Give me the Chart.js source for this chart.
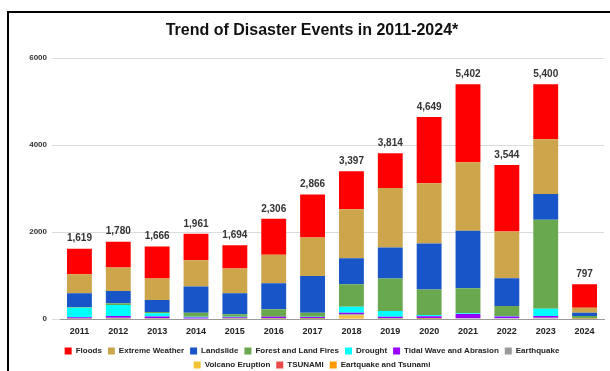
<!DOCTYPE html>
<html>
<head>
<meta charset="utf-8">
<script src="https://cdn.jsdelivr.net/npm/chart.js@4"></script>
<style>
  html, body { margin: 0; padding: 0; background: #fff; overflow: hidden; }
  #wrap { position: relative; width: 610px; height: 371px; }
  #frame {
    position: absolute; left: 7px; top: 11px; width: 700px; height: 400px;
    border-left: 2px solid #000; border-top: 2px solid #000; pointer-events: none;
  }
</style>
</head>
<body>
<div id="wrap">
  <canvas id="chart" width="610" height="371"></canvas>
  <div id="frame"></div>
</div>
<script>
const years = ['2011', '2012', '2013', '2014', '2015', '2016', '2017', '2018', '2019', '2020', '2021', '2022', '2023', '2024'];
const yTicks = [0, 2000, 4000, 6000];

const floods         = [587, 596, 736, 607, 533, 829, 989, 874, 798, 1526, 1794, 1529, 1262, 536];
const extremeWeather = [439, 538, 492, 608, 568, 653, 885, 1123, 1370, 1385, 1577, 1076, 1260, 115];
const landslide      = [323, 284, 277, 600, 485, 600, 846, 600, 715, 1061, 1323, 639, 593, 77];
const forestFires    = [10, 40, 30, 95, 55, 170, 95, 516, 746, 585, 577, 231, 2047, 45];
const drought        = [217, 254, 76, 15, 10, 5, 5, 139, 132, 30, 15, 10, 169, 2];
const tidalWave      = [30, 40, 40, 25, 20, 25, 25, 34, 30, 40, 100, 35, 40, 5];
const earthquake     = [10, 20, 10, 11, 20, 20, 20, 30, 20, 20, 16, 24, 29, 15];
const volcano        = [3, 8, 5, 0, 3, 4, 1, 50, 3, 2, 0, 0, 0, 2];
const tsunami        = [0, 0, 0, 0, 0, 0, 0, 5, 0, 0, 0, 0, 0, 0];
const quakeTsunami   = [0, 0, 0, 0, 0, 0, 0, 26, 0, 0, 0, 0, 0, 0];

// legend order (top of stack first)
const series = [
  { label: 'Floods', data: floods, color: '#ff0000' },
  { label: 'Extreme Weather', data: extremeWeather, color: '#cda64b' },
  { label: 'Landslide', data: landslide, color: '#1755c8' },
  { label: 'Forest and Land Fires', data: forestFires, color: '#6aa84f' },
  { label: 'Drought', data: drought, color: '#00ffff' },
  { label: 'Tidal Wave and Abrasion', data: tidalWave, color: '#9900ff' },
  { label: 'Earthquake', data: earthquake, color: '#999999' },
  { label: 'Volcano Eruption', data: volcano, color: '#f1c232' },
  { label: 'TSUNAMI', data: tsunami, color: '#e84a4a' },
  { label: 'Eartquake and Tsunami', data: quakeTsunami, color: '#ff9900' },
];

// chart.js stacks in dataset order, so bottom series goes first
const datasets = series.slice().reverse().map(s => ({
  label: s.label,
  data: s.data,
  backgroundColor: s.color,
  borderWidth: 0,
  categoryPercentage: 1,
  barPercentage: 0.64,
}));

const totals = years.map((_, i) => series.reduce((sum, s) => sum + s.data[i], 0));

const totalLabels = {
  id: 'totalLabels',
  afterDatasetsDraw(chart) {
    const ctx = chart.ctx;
    const topMeta = chart.getDatasetMeta(chart.data.datasets.length - 1);
    const yScale = chart.scales.y;
    ctx.save();
    ctx.font = 'bold 10px "Liberation Sans", Arial, sans-serif';
    ctx.fillStyle = '#333';
    ctx.textAlign = 'center';
    ctx.textBaseline = 'bottom';
    topMeta.data.forEach((bar, i) => {
      ctx.fillText(totals[i].toLocaleString('en-US'), bar.x, yScale.getPixelForValue(totals[i]) - 5);
    });
    ctx.restore();
  }
};

// legend in the original wraps narrower than the canvas, so cap its row width
const narrowLegend = {
  id: 'narrowLegend',
  beforeUpdate(chart) {
    const lg = chart.legend;
    if (!lg || lg._narrowed) return;
    const fit = lg.fit;
    lg.fit = function () {
      this.maxWidth = Math.min(this.maxWidth, 530);
      fit.call(this);
    };
    lg._narrowed = true;
  }
};

new Chart(document.getElementById('chart'), {
  type: 'bar',
  data: { labels: years, datasets: datasets },
  options: {
    responsive: false,
    animation: false,
    layout: { padding: { left: 20, right: 6, top: 21, bottom: -8 } },
    plugins: {
      title: {
        display: true,
        text: 'Trend of Disaster Events in 2011-2024*',
        color: '#111',
        font: { family: '"Liberation Sans", Arial, sans-serif', size: 16, weight: 'bold', lineHeight: 1.2 },
        padding: { top: 0, bottom: 18 },
      },
      legend: {
        position: 'bottom',
        reverse: true,
        labels: {
          boxWidth: 7,
          boxHeight: 7,
          padding: 6,
          color: '#222',
          font: { family: '"Liberation Sans", Arial, sans-serif', size: 8, weight: 'bold' },
        },
      },
      tooltip: { enabled: false },
    },
    scales: {
      x: {
        stacked: true,
        grid: { display: false, drawTicks: false },
        border: { color: '#999' },
        ticks: {
          padding: 7,
          color: '#222',
          font: { family: '"Liberation Sans", Arial, sans-serif', size: 9, weight: 'bold' },
        },
        afterFit(axis) { axis.height = 22; },
      },
      y: {
        stacked: true,
        min: 0,
        max: 6000,
        afterBuildTicks(axis) { axis.ticks = yTicks.map(v => ({ value: v })); },
        grid: { color: '#dcdcdc', tickLength: 8 },
        border: { display: false },
        ticks: {
          padding: 5,
          color: '#333',
          callback: v => String(v),
          font: { family: '"Liberation Sans", Arial, sans-serif', size: 8, weight: 'bold' },
        },
        afterFit(axis) { axis.width = 40; },
      },
    },
  },
  plugins: [totalLabels, narrowLegend],
});
</script>
</body>
</html>
